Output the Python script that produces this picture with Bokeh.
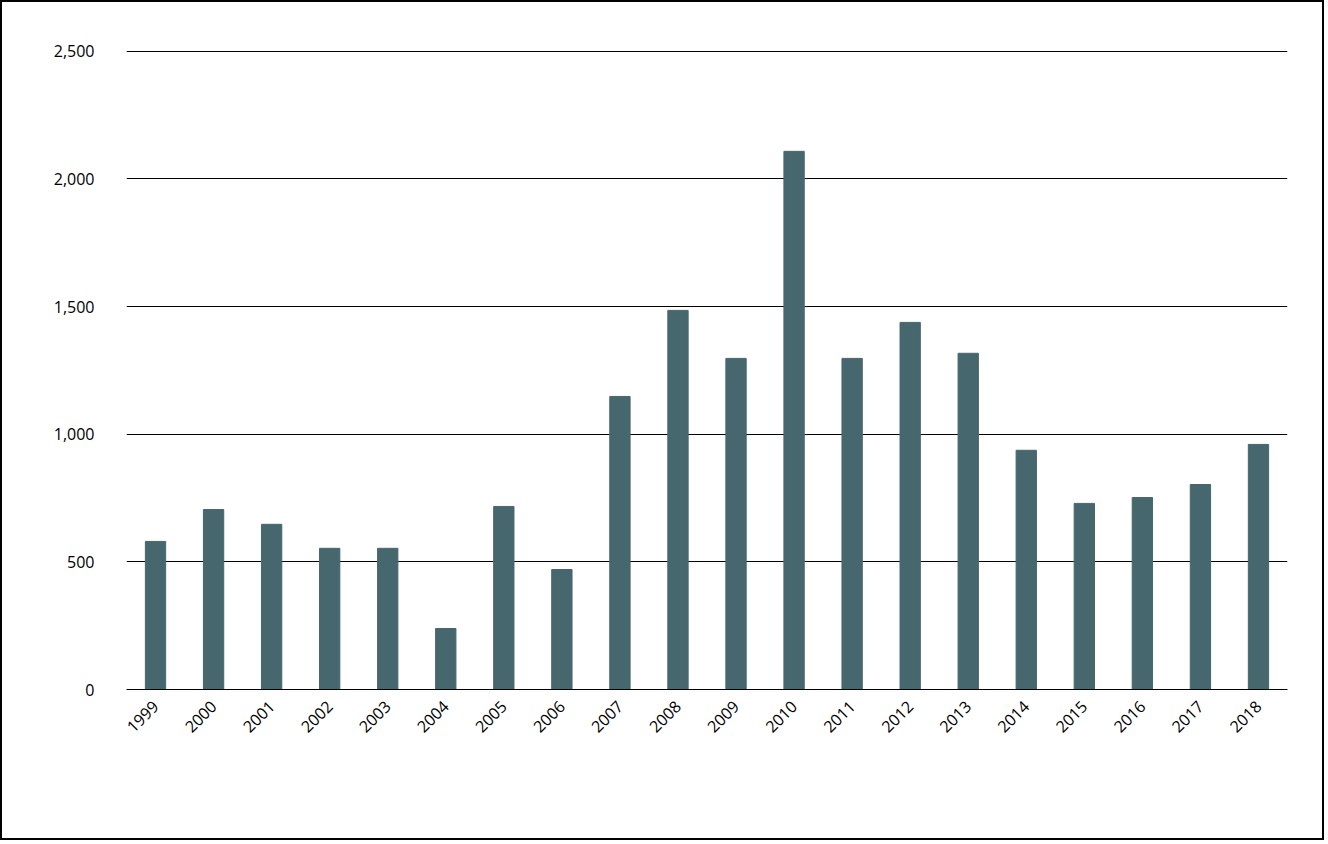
from bokeh.plotting import figure
from bokeh.models import NumeralTickFormatter, FixedTicker, Range1d
from bokeh.embed import file_html
from bokeh.resources import INLINE

years = [str(y) for y in range(1999, 2019)]
counts = [580, 705, 647, 553, 553, 239, 717, 470, 1148, 1485,
          1297, 2108, 1297, 1438, 1317, 937, 729, 752, 803, 960]

p = figure(x_range=years, y_range=Range1d(0, 2503), width=1324, height=840,
           output_backend="svg", toolbar_location=None,
           min_border_left=124, min_border_right=39,
           min_border_top=48, min_border_bottom=153)
p.styles = {"border": "2px solid black"}
p.vbar(x=years, top=counts, width=0.35, color="#46676d")

p.outline_line_color = None
p.xgrid.grid_line_color = None
p.ygrid.grid_line_color = "black"
p.ygrid.grid_line_alpha = 1
p.yaxis.ticker = FixedTicker(ticks=[0, 500, 1000, 1500, 2000, 2500])
p.yaxis.formatter = NumeralTickFormatter(format="0,0")
for ax in (p.xaxis, p.yaxis):
    ax.axis_line_color = None
    ax.major_tick_line_color = None
    ax.minor_tick_line_color = None
    ax.major_label_text_font = "Open Sans"
    ax.major_label_text_font_size = "16px"
    ax.major_label_text_color = "black"
p.xaxis.axis_line_color = "black"
p.xaxis.major_label_orientation = 0.785
p.xaxis.major_label_standoff = 8
p.yaxis.major_label_standoff = 26

open("out.html", "w").write(file_html(p, INLINE))
